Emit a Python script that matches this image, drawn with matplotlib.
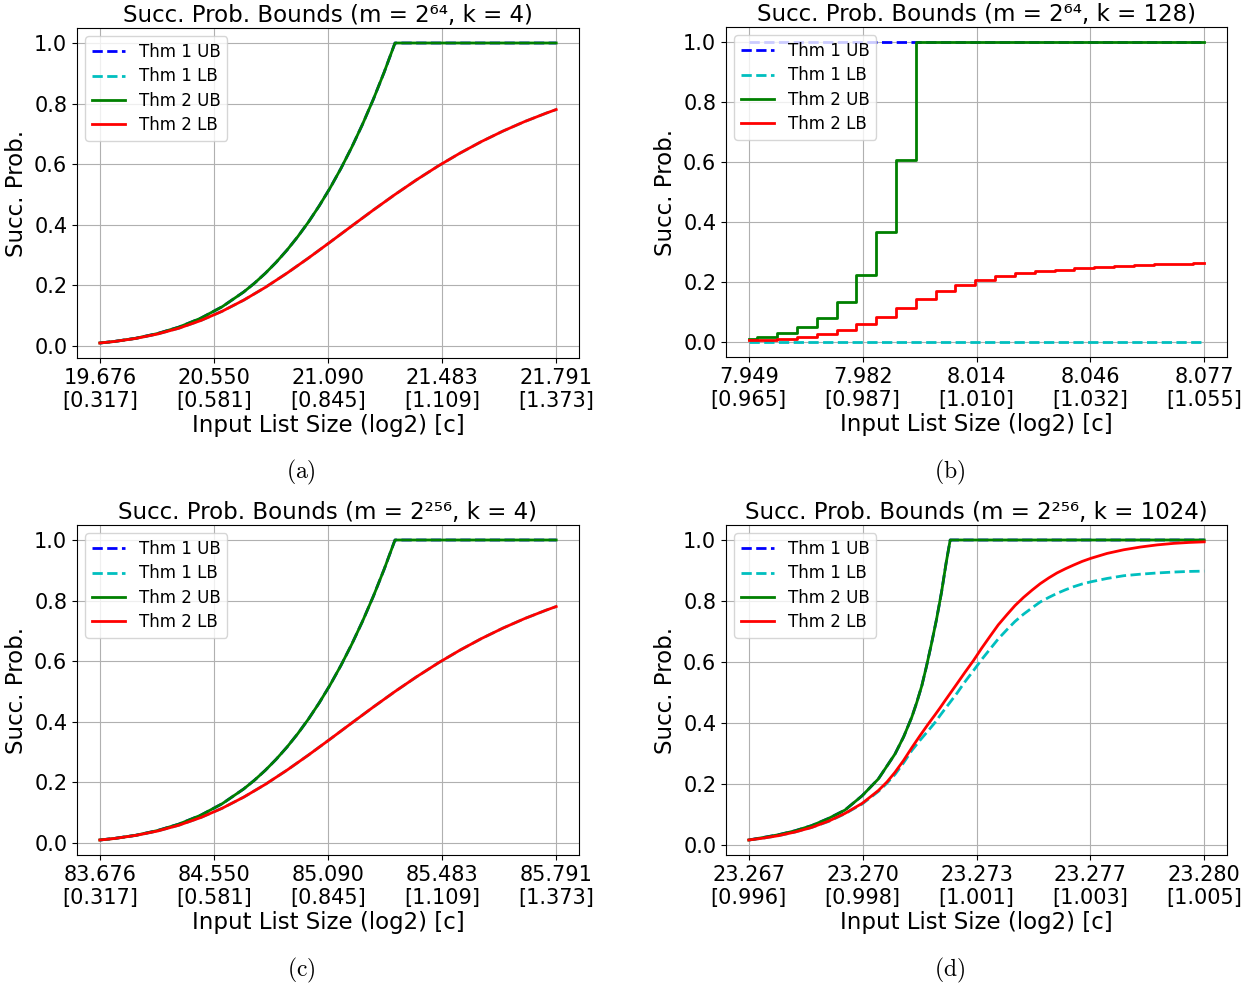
import matplotlib
matplotlib.use("Agg")
import matplotlib.pyplot as plt

plt.rcParams['mathtext.fontset'] = 'cm'

# (a) / (c): m = 2^64 / 2^256, k = 4  (x axis = c)
c_ub_k4 = [0.317, 0.35, 0.40, 0.45, 0.50, 0.55, 0.60, 0.65, 0.675, 0.70,
           0.725, 0.75, 0.775, 0.80, 0.825, 0.85, 0.875, 0.90, 0.925, 0.95,
           0.975, 1.00, 1.373]
ub_k4 = [0.0101, 0.0150, 0.0256, 0.0410, 0.0625, 0.0915, 0.1296, 0.1785,
         0.2076, 0.2401, 0.2763, 0.3164, 0.3608, 0.4096, 0.4633, 0.5220,
         0.5862, 0.6561, 0.7321, 0.8145, 0.9037, 1.0, 1.0]
c_lb_k4 = [0.317, 0.35, 0.40, 0.45, 0.50, 0.55, 0.60, 0.65, 0.70, 0.75,
           0.80, 0.85, 0.90, 0.95, 1.00, 1.05, 1.10, 1.15, 1.20, 1.25,
           1.30, 1.35, 1.373]
lb_k4 = [0.0100, 0.0148, 0.0250, 0.0394, 0.0588, 0.0838, 0.1147, 0.1515,
         0.1936, 0.2404, 0.2906, 0.3430, 0.3962, 0.4489, 0.5, 0.5486,
         0.5942, 0.6362, 0.6747, 0.7094, 0.7407, 0.7686, 0.7804]
ticks_k4 = [0.317, 0.581, 0.845, 1.109, 1.373]
labels_a = ["19.676\n[0.317]", "20.550\n[0.581]", "21.090\n[0.845]",
            "21.483\n[1.109]", "21.791\n[1.373]"]
labels_c = ["83.676\n[0.317]", "84.550\n[0.581]", "85.090\n[0.845]",
            "85.483\n[1.109]", "85.791\n[1.373]"]

# (b): m = 2^64, k = 128 -- step curves
c_b = [0.965, 0.96668, 0.97060, 0.97452, 0.97843, 0.98235, 0.98626, 0.99018,
       0.99410, 0.99801, 1.00193, 1.00584, 1.00976, 1.01368, 1.01759, 1.02151,
       1.02542, 1.02934, 1.03326, 1.03717, 1.04109, 1.04500, 1.04892, 1.05284,
       1.055]
ub2_b = [0.010, 0.018, 0.030, 0.049, 0.081, 0.135, 0.222, 0.368, 0.607, 1.0,
         1.0, 1.0, 1.0, 1.0, 1.0, 1.0, 1.0, 1.0, 1.0, 1.0, 1.0, 1.0, 1.0, 1.0,
         1.0]
lb2_b = [0.0055, 0.0065, 0.010, 0.0155, 0.0266, 0.040, 0.0588, 0.083, 0.113,
         0.143, 0.171, 0.191, 0.208, 0.221, 0.231, 0.237, 0.241, 0.2467, 0.251,
         0.2543, 0.2567, 0.2587, 0.261, 0.263, 0.263]
c_b_thm1 = [0.965, 1.055]
ub1_b = [1.0, 1.0]
lb1_b = [0.0, 0.0]
ticks_b = [0.965, 0.9875, 1.010, 1.0325, 1.055]
labels_b = ["7.949\n[0.965]", "7.982\n[0.987]", "8.014\n[1.010]",
            "8.046\n[1.032]", "8.077\n[1.055]"]

# (d): m = 2^256, k = 1024
c_ub_d = [0.99602, 0.99630, 0.99660, 0.99693, 0.99726, 0.99760, 0.99792,
          0.99826, 0.99858, 0.99891, 0.99908, 0.99924, 0.99934, 0.99944,
          0.99953, 0.99963, 0.99973, 0.99983, 0.99992, 1.00000, 1.00502]
ub_d = [0.017, 0.025, 0.034, 0.047, 0.064, 0.088, 0.115, 0.162, 0.217,
        0.299, 0.355, 0.419, 0.468, 0.523, 0.585, 0.660, 0.740, 0.830,
        0.925, 1.0, 1.0]
c_lb_d = [0.99602, 0.99630, 0.99660, 0.99693, 0.99726, 0.99760, 0.99792,
          0.99826, 0.99858, 0.99875, 0.99891, 0.99908, 0.99924, 0.99940,
          0.99957, 0.99970, 0.99980, 0.99990, 1.00013, 1.00029, 1.00046,
          1.00062, 1.00079, 1.00095, 1.00112, 1.00128, 1.00145, 1.00162,
          1.00178, 1.00195, 1.00211, 1.00228, 1.00244, 1.00261, 1.00278,
          1.00310, 1.00343, 1.00376, 1.00409, 1.00442, 1.00472, 1.00502]
lb2_d = [0.017, 0.023, 0.031, 0.043, 0.058, 0.079, 0.104, 0.137, 0.179,
         0.207, 0.239, 0.278, 0.319, 0.358, 0.398, 0.427, 0.450, 0.474,
         0.528, 0.566, 0.605, 0.645, 0.685, 0.722, 0.755, 0.785, 0.812,
         0.836, 0.857, 0.876, 0.892, 0.906, 0.918, 0.930, 0.940, 0.956,
         0.968, 0.977, 0.984, 0.989, 0.992, 0.994]
lb1_d = [0.017, 0.023, 0.031, 0.043, 0.058, 0.078, 0.103, 0.135, 0.176,
         0.203, 0.232, 0.270, 0.310, 0.343, 0.376, 0.402, 0.425, 0.447,
         0.497, 0.535, 0.572, 0.608, 0.643, 0.676, 0.706, 0.733, 0.757,
         0.778, 0.797, 0.812, 0.825, 0.837, 0.847, 0.856, 0.863, 0.874,
         0.883, 0.888, 0.892, 0.895, 0.897, 0.898]
ticks_d = [0.99602, 0.99827, 1.00052, 1.00277, 1.00502]
labels_d = ["23.267\n[0.996]", "23.270\n[0.998]", "23.273\n[1.001]",
            "23.277\n[1.003]", "23.280\n[1.005]"]


def setup(ax, title, ticks, labels):
    ax.set_title(title, fontsize=16.5, pad=4)
    ax.set_xticks(ticks)
    ax.set_xticklabels(labels)
    ax.tick_params(labelsize=15)
    ax.set_xlabel("Input List Size (log2) [c]", fontsize=16.5, labelpad=2)
    ax.set_ylabel("Succ. Prob.", fontsize=16.5)
    ax.grid(True)
    ax.legend(loc="upper left", fontsize=12, labelspacing=0.38)


fig = plt.figure(figsize=(12.56, 9.89), dpi=100)
W, H = 1256, 989


def box(l, t, r, b):
    return [l / W, 1 - b / H, (r - l) / W, (b - t) / H]


ax_a = fig.add_axes(box(77, 28, 579, 358))
ax_b = fig.add_axes(box(726, 27, 1227, 357))
ax_c = fig.add_axes(box(77, 525, 579, 855))
ax_d = fig.add_axes(box(726, 525, 1227, 855))

for ax, ttl, lbls in [(ax_a, "Succ. Prob. Bounds (m = 2⁶⁴, k = 4)", labels_a),
                      (ax_c, "Succ. Prob. Bounds (m = 2²⁵⁶, k = 4)", labels_c)]:
    ax.plot(c_ub_k4, ub_k4, 'b--', lw=2, label="Thm 1 UB")
    ax.plot(c_lb_k4, lb_k4, 'c--', lw=2, label="Thm 1 LB")
    ax.plot(c_ub_k4, ub_k4, 'g-', lw=2, label="Thm 2 UB")
    ax.plot(c_lb_k4, lb_k4, 'r-', lw=2, label="Thm 2 LB")
    setup(ax, ttl, ticks_k4, lbls)

ax_b.plot(c_b_thm1, ub1_b, 'b--', lw=2, label="Thm 1 UB")
ax_b.plot(c_b_thm1, lb1_b, 'c--', lw=2, label="Thm 1 LB")
ax_b.step(c_b, ub2_b, 'g-', where='post', lw=2, label="Thm 2 UB")
ax_b.step(c_b, lb2_b, 'r-', where='post', lw=2, label="Thm 2 LB")
setup(ax_b, "Succ. Prob. Bounds (m = 2⁶⁴, k = 128)", ticks_b, labels_b)

ax_d.plot(c_ub_d, ub_d, 'b--', lw=2, label="Thm 1 UB")
ax_d.plot(c_lb_d, lb1_d, 'c--', lw=2, label="Thm 1 LB")
ax_d.plot(c_ub_d, ub_d, 'g-', lw=2, label="Thm 2 UB")
ax_d.plot(c_lb_d, lb2_d, 'r-', lw=2, label="Thm 2 LB")
setup(ax_d, "Succ. Prob. Bounds (m = 2²⁵⁶, k = 1024)", ticks_d, labels_d)

for x, y, s in [(301, 472, "a"), (950, 472, "b"), (301, 970, "c"), (950, 970, "d")]:
    fig.text(x / W, 1 - y / H, r"$\mathrm{(%s)}$" % s, ha="center", va="center",
             fontsize=17)

fig.savefig("out.png", dpi=100)
